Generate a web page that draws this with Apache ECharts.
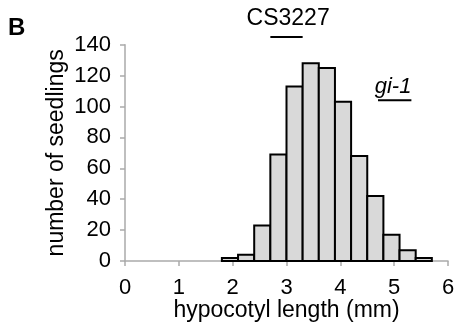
<!DOCTYPE html>
<html><head><meta charset="utf-8">
<script src="https://cdn.jsdelivr.net/npm/echarts@6/dist/echarts.min.js"></script>
<style>html,body{margin:0;padding:0;background:#fff}#c{width:456px;height:324px}</style>
</head><body><div id="c"></div>
<script>
// histogram bins (mm) and counts
const binStarts = [1.8, 2.1, 2.4, 2.7, 3.0, 3.3, 3.6, 3.9, 4.2, 4.5, 4.8, 5.1, 5.4];
const binWidth = 0.3;
const counts = [2, 4, 23, 69, 113, 128, 125, 103, 68, 42, 17, 7, 2];
const xTicks = [0, 1, 2, 3, 4, 5, 6];
const yTicks = [0, 20, 40, 60, 80, 100, 120, 140];
// annotation bars: [x start, x end, y level]
const annoNames = ['CS3227', 'gi-1'];
const annoRanges = [[2.7, 3.3, 145], [4.7, 5.32, 104]];
const annoLabelPos = [[3.03, 157], [4.98, 113]];

const chart = echarts.init(document.getElementById('c'));
const FONT = 'Liberation Sans, Arial, Helvetica, sans-serif';
const axisGray = '#aaaaaa';
chart.setOption({
  animation: false,
  graphic: [{ type: 'text', left: 8, top: 16, style: { text: 'B', font: 'bold 24px ' + FONT, fill: '#000' } }],
  grid: { left: 125, right: 8, top: 44.7, bottom: 63, containLabel: false, outerBoundsMode: 'none' },
  xAxis: {
    type: 'value', min: xTicks[0], max: xTicks[xTicks.length - 1], interval: 1,
    name: 'hypocotyl length (mm)', nameLocation: 'middle', nameGap: 38, nameMoveOverlap: false,
    nameTextStyle: { fontSize: 23, fontFamily: FONT, color: '#000' },
    axisLine: { show: true, lineStyle: { color: axisGray, width: 1.5 } },
    axisTick: { show: true, length: 5, lineStyle: { color: axisGray, width: 1.5 } },
    axisLabel: { fontSize: 22, fontFamily: FONT, color: '#000', margin: 16 },
    splitLine: { show: false }
  },
  yAxis: {
    type: 'value', min: yTicks[0], max: yTicks[yTicks.length - 1], interval: 20,
    name: 'number of seedlings', nameLocation: 'middle', nameGap: 57, nameRotate: 90, nameMoveOverlap: false,
    nameTextStyle: { fontSize: 23, fontFamily: FONT, color: '#000' },
    axisLine: { show: true, lineStyle: { color: axisGray, width: 1.5 } },
    axisTick: { show: true, length: 5, lineStyle: { color: axisGray, width: 1.5 } },
    axisLabel: { fontSize: 22, fontFamily: FONT, color: '#000', margin: 14 },
    splitLine: { show: false }
  },
  series: [
    {
      type: 'custom',
      data: binStarts.map((s, i) => [s, s + binWidth, counts[i]]),
      encode: { x: [0, 1], y: 2 },
      renderItem: function (params, api) {
        const p0 = api.coord([api.value(0), api.value(2)]);
        const p1 = api.coord([api.value(1), 0]);
        return {
          type: 'rect',
          shape: { x: p0[0], y: p0[1], width: p1[0] - p0[0], height: p1[1] - p0[1] },
          style: { fill: '#d9d9d9', stroke: '#000', lineWidth: 2 }
        };
      }
    },
    {
      type: 'custom',
      clip: false,
      data: annoRanges.map((r, i) => [r[0], r[1], r[2], annoLabelPos[i][0], annoLabelPos[i][1], i]),
      encode: { x: [0, 1], y: 2 },
      renderItem: function (params, api) {
        const a = api.coord([api.value(0), api.value(2)]);
        const b = api.coord([api.value(1), api.value(2)]);
        const t = api.coord([api.value(3), api.value(4)]);
        const idx = api.value(5);
        return {
          type: 'group',
          children: [
            { type: 'line', shape: { x1: a[0], y1: a[1], x2: b[0], y2: b[1] }, style: { stroke: '#000', lineWidth: 2 } },
            { type: 'text', x: t[0], y: t[1], style: { text: annoNames[idx], font: (idx === 1 ? 'italic ' : '') + (idx === 1 ? '22px ' : '23px ') + FONT, fill: '#000', align: 'center', verticalAlign: 'middle' } }
          ]
        };
      }
    }
  ]
});
</script></body></html>
